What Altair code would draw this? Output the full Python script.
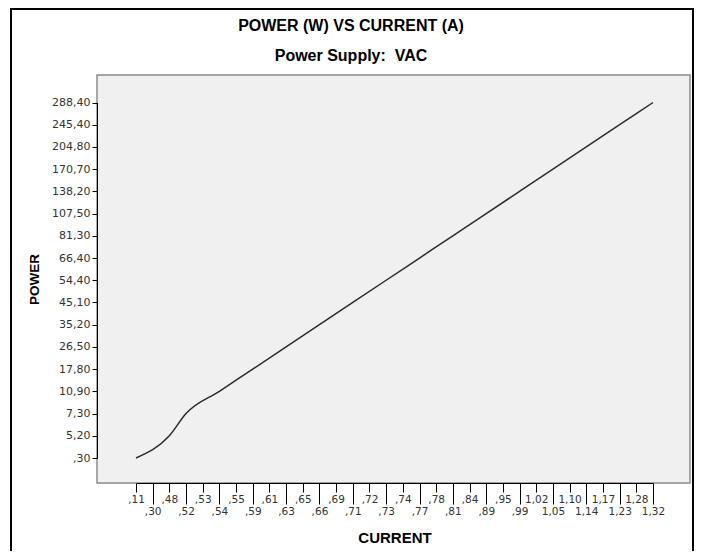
import altair as alt
import pandas as pd

# x-axis categories (all CURRENT values shown on the axis)
current_labels = [",11", ",30", ",48", ",52", ",53", ",54", ",55", ",59", ",61", ",63",
                  ",65", ",66", ",69", ",71", ",72", ",73", ",74", ",77", ",78", ",81",
                  ",84", ",89", ",95", ",99", "1,02", "1,05", "1,10", "1,14", "1,17",
                  "1,23", "1,28", "1,32"]
# y-axis categories (POWER values)
power_labels = [",30", "5,20", "7,30", "10,90", "17,80", "26,50", "35,20", "45,10", "54,40",
                "66,40", "81,30", "107,50", "138,20", "170,70", "204,80", "245,40", "288,40"]

# series: VAC power supply readings
series_current = [",11", ",48", ",52", ",54", ",59", ",63", ",66", ",71", ",73", ",77",
                  ",81", ",89", ",99", "1,05", "1,14", "1,23", "1,32"]
series_power = [",30", "5,20", "7,30", "10,90", "17,80", "26,50", "35,20", "45,10", "54,40",
                "66,40", "81,30", "107,50", "138,20", "170,70", "204,80", "245,40", "288,40"]

df = pd.DataFrame({"CURRENT": series_current, "POWER": series_power})

lower_row = current_labels[1::2]
lower_list = "[" + ",".join("'" + s + "'" for s in lower_row) + "]"
is_lower = f"indexof({lower_list}, datum.value) >= 0"

LABEL_FONT = "DejaVu Sans"
TITLE_FONT = "Liberation Sans"

line = alt.Chart(df).mark_line(
    color="#2b2b2b", strokeWidth=1.5, interpolate="monotone"
).encode(
    x=alt.X("CURRENT:O",
            scale=alt.Scale(type="point", domain=current_labels, range=[39, 556], padding=0),
            axis=alt.Axis(
                title="CURRENT", labelAngle=0, labelFont=LABEL_FONT, labelFontSize=10.5,
                labelColor="#333333",
                tickSize={"condition": {"test": is_lower, "value": 21}, "value": 9},
                labelPadding=2,
                tickColor="black", domainColor="black",
                titleFont=TITLE_FONT, titleFontSize=15, titleFontWeight="bold",
                titleColor="black", titleBaseline="middle", titleY=54)),
    y=alt.Y("POWER:O",
            scale=alt.Scale(type="point", domain=power_labels, range=[383, 27.5], padding=0),
            axis=alt.Axis(
                title="POWER", labelFont=LABEL_FONT, labelFontSize=11,
                labelColor="#333333", tickSize=5, labelPadding=2,
                tickColor="black", domainColor="black",
                titleFont=TITLE_FONT, titleFontSize=13.5, titleFontWeight="bold",
                titleColor="black", titleBaseline="middle", titleX=-63, titleY=204)),
)

deco = alt.Data(values=[{}])

frame = alt.Chart(deco).mark_rect(
    fillOpacity=0, stroke="black", strokeWidth=2, clip=False
).encode(x=alt.value(-86), x2=alt.value(596), y=alt.value(-66), y2=alt.value(500))

title = alt.Chart(deco).mark_text(
    font=TITLE_FONT, fontSize=16, fontWeight="bold", color="black", baseline="middle"
).encode(x=alt.value(254), y=alt.value(-49), text=alt.value("POWER (W) VS CURRENT (A)"))

subtitle = alt.Chart(deco).mark_text(
    font=TITLE_FONT, fontSize=16, fontWeight="bold", color="black", baseline="middle"
).encode(x=alt.value(254), y=alt.value(-19), text=alt.value("Power Supply:\u00a0\u00a0VAC"))

chart = alt.layer(line, frame, title, subtitle).properties(
    width=593, height=408,
    autosize=alt.AutoSizeParams(type="none"),
    padding={"left": 89, "top": 67, "right": 4, "bottom": 68},
).configure_view(fill="#f0f0f0", stroke="#8c8c8c", strokeWidth=1.5)

chart.save("out.html", embed_options={"renderer": "svg", "actions": False})
